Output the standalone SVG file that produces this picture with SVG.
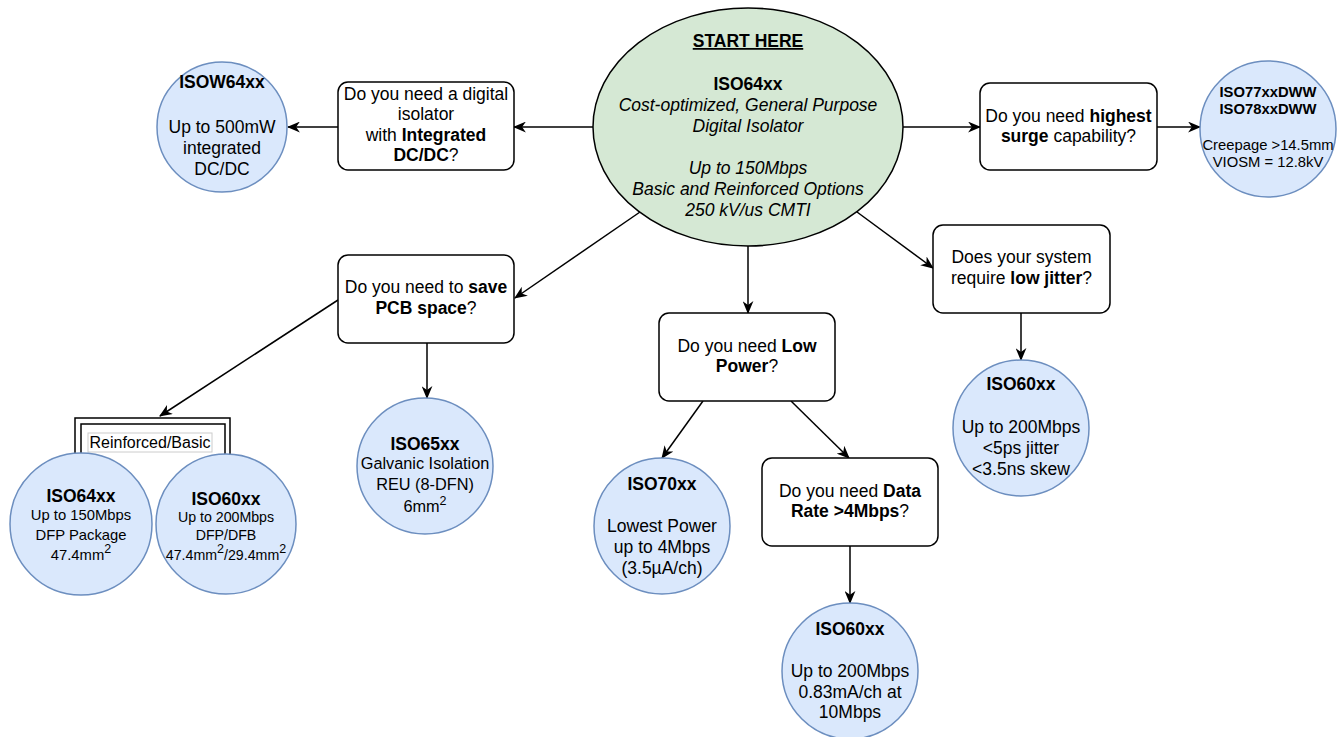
<svg xmlns="http://www.w3.org/2000/svg" width="1342" height="737" viewBox="0 0 1342 737">
<style>
text{font-family:"Liberation Sans",Arial,Helvetica,sans-serif;fill:#000;text-anchor:middle}
.q{font-size:17.5px}
.c{font-size:17.5px}
.s{font-size:14.8px}
.b{font-weight:bold}
.i{font-style:italic}
.sup{font-size:12.5px}
.box{fill:#fff;stroke:#000;stroke-width:1.5}
.circ{fill:#dae8fc;stroke:#6c8ebf;stroke-width:1.5}
.start{fill:#d5e8d4;stroke:#000;stroke-width:1.5}
.conn line,.conn path{stroke:#000;stroke-width:1.5;fill:none}
.conn line{marker-end:url(#arr)}
</style>
<defs>
<marker id="arr" viewBox="0 0 12 10" refX="11" refY="5" markerWidth="13" markerHeight="11" markerUnits="userSpaceOnUse" orient="auto">
<path d="M0,0 L12,5 L0,10 L3.5,5 Z" fill="#000"/>
</marker>
</defs>
<rect width="1342" height="737" fill="#fff"/>

<g id="connectors" class="conn">
<line x1="593" y1="127" x2="514" y2="127"/>
<line x1="338" y1="127" x2="288" y2="127"/>
<line x1="903" y1="127" x2="980" y2="127"/>
<line x1="1157" y1="127" x2="1200" y2="127"/>
<line x1="640" y1="212" x2="515" y2="298"/>
<line x1="748" y1="246" x2="748" y2="313"/>
<line x1="857" y1="212" x2="933" y2="268"/>
<line x1="1021" y1="313" x2="1021" y2="360"/>
<line x1="703" y1="401" x2="662" y2="458"/>
<line x1="791" y1="401" x2="849" y2="458"/>
<line x1="850" y1="546" x2="850" y2="603"/>
<line x1="338" y1="300" x2="160" y2="416"/>
<line x1="427" y1="343" x2="427" y2="398"/>
</g>

<g id="start">
<ellipse class="start" cx="748" cy="127" rx="155" ry="119"/>
<text class="q b" x="748" y="47" text-decoration="underline">START HERE</text>
<text class="q b" x="748" y="90">ISO64xx</text>
<text class="q i" x="748" y="111">Cost-optimized, General Purpose</text>
<text class="q i" x="748" y="132">Digital Isolator</text>
<text class="q i" x="748" y="174">Up to 150Mbps</text>
<text class="q i" x="748" y="195">Basic and Reinforced Options</text>
<text class="q i" x="748" y="216">250 kV/us CMTI</text>
</g>

<g id="q-dcdc">
<rect class="box" x="338" y="82" width="176" height="88" rx="10"/>
<text class="q" x="426" y="100">Do you need a digital</text>
<text class="q" x="426" y="120">isolator</text>
<text class="q" x="426" y="141">with <tspan class="b">Integrated</tspan></text>
<text class="q" x="426" y="161"><tspan class="b">DC/DC</tspan>?</text>
</g>

<g id="isow64xx">
<circle class="circ" cx="222" cy="127" r="65"/>
<text class="c b" x="222" y="88">ISOW64xx</text>
<text class="c" x="222" y="133">Up to 500mW</text>
<text class="c" x="222" y="154">integrated</text>
<text class="c" x="222" y="175">DC/DC</text>
</g>

<g id="q-surge">
<rect class="box" x="980" y="83" width="177" height="87" rx="10"/>
<text class="q" x="1068.5" y="122">Do you need <tspan class="b">highest</tspan></text>
<text class="q" x="1068.5" y="142"><tspan class="b">surge</tspan> capability?</text>
</g>

<g id="iso77">
<circle class="circ" cx="1268" cy="129" r="68"/>
<text class="s b" x="1268" y="97">ISO77xxDWW</text>
<text class="s b" x="1268" y="114">ISO78xxDWW</text>
<text class="s" x="1268" y="150">Creepage &gt;14.5mm</text>
<text class="s" x="1268" y="167">VIOSM = 12.8kV</text>
</g>

<g id="q-pcb">
<rect class="box" x="338" y="255" width="176" height="88" rx="10"/>
<text class="q" x="426" y="293">Do you need to <tspan class="b">save</tspan></text>
<text class="q" x="426" y="314"><tspan class="b">PCB space</tspan>?</text>
</g>

<g id="q-jitter">
<rect class="box" x="933" y="225" width="177" height="88" rx="10"/>
<text class="q" x="1021.5" y="263">Does your system</text>
<text class="q" x="1021.5" y="284">require <tspan class="b">low jitter</tspan>?</text>
</g>

<g id="iso60-jitter">
<circle class="circ" cx="1021" cy="428" r="68"/>
<text class="c b" x="1021" y="390">ISO60xx</text>
<text class="c" x="1021" y="433">Up to 200Mbps</text>
<text class="c" x="1021" y="454">&lt;5ps jitter</text>
<text class="c" x="1021" y="475">&lt;3.5ns skew</text>
</g>

<g id="q-lowpower">
<rect class="box" x="659" y="313" width="176" height="88" rx="10"/>
<text class="q" x="747" y="352">Do you need <tspan class="b">Low</tspan></text>
<text class="q" x="747" y="372"><tspan class="b">Power</tspan>?</text>
</g>

<g id="iso70">
<circle class="circ" cx="662" cy="526" r="68"/>
<text class="c b" x="662" y="490">ISO70xx</text>
<text class="c" x="662" y="532">Lowest Power</text>
<text class="c" x="662" y="553">up to 4Mbps</text>
<text class="c" x="662" y="574">(3.5µA/ch)</text>
</g>

<g id="q-datarate">
<rect class="box" x="762" y="458" width="176" height="88" rx="10"/>
<text class="q" x="850" y="497">Do you need <tspan class="b">Data</tspan></text>
<text class="q" x="850" y="517"><tspan class="b">Rate &gt;4Mbps</tspan>?</text>
</g>

<g id="iso60-power">
<circle class="circ" cx="850" cy="671" r="68"/>
<text class="c b" x="850" y="635">ISO60xx</text>
<text class="c" x="850" y="677">Up to 200Mbps</text>
<text class="c" x="850" y="698">0.83mA/ch at</text>
<text class="c" x="850" y="718">10Mbps</text>
</g>

<g id="iso65">
<circle class="circ" cx="425" cy="466" r="68"/>
<text class="c b" x="425" y="450">ISO65xx</text>
<text x="425" y="469" style="font-size:16.3px">Galvanic Isolation</text>
<text x="425" y="490" style="font-size:16.3px">REU (8-DFN)</text>
<text x="425" y="512" style="font-size:16.3px">6mm<tspan class="sup" dy="-7">2</tspan></text>
</g>

<g id="group-reinforced">
<path d="M75,470 V418 H230 V470 M81,470 V424 H225 V470" fill="none" stroke="#000" stroke-width="1.5"/>
<rect x="88" y="433" width="124" height="19" fill="#fff" stroke="#ccc" stroke-width="1"/>
<text x="150" y="448" style="font-size:16px">Reinforced/Basic</text>
</g>

<g id="iso64-small">
<circle class="circ" cx="81" cy="524" r="71"/>
<text class="c b" x="81" y="502">ISO64xx</text>
<text class="s" x="81" y="520">Up to 150Mbps</text>
<text class="s" x="81" y="540">DFP Package</text>
<text class="s" x="81" y="560">47.4mm<tspan class="sup" dy="-7">2</tspan></text>
</g>

<g id="iso60-small">
<circle class="circ" cx="226" cy="524" r="70"/>
<text class="c b" x="226" y="505">ISO60xx</text>
<text x="226" y="522" style="font-size:14.2px">Up to 200Mbps</text>
<text x="226" y="540" style="font-size:14.2px">DFP/DFB</text>
<text x="226" y="560" style="font-size:14.2px">47.4mm<tspan class="sup" dy="-7">2</tspan><tspan dy="7">/29.4mm</tspan><tspan class="sup" dy="-7">2</tspan></text>
</g>
</svg>
